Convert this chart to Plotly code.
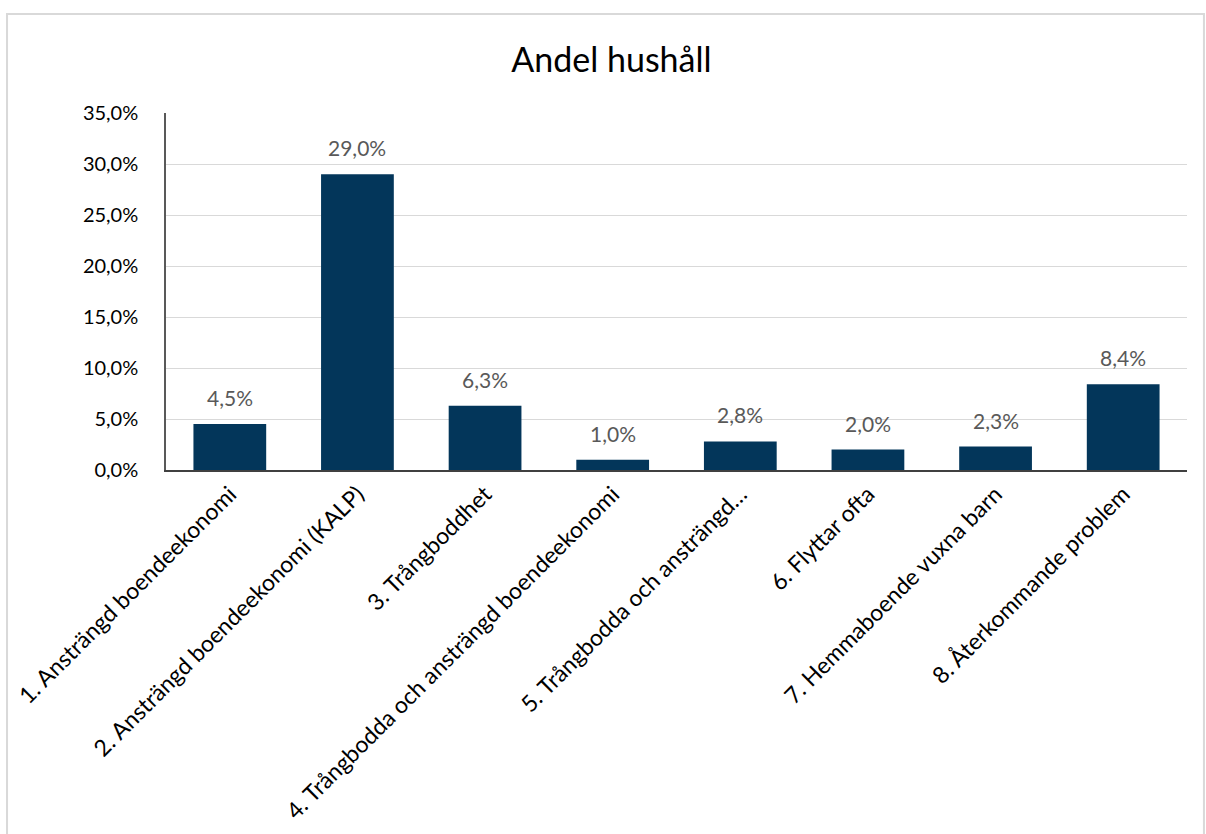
import plotly.graph_objects as go

# Andel hushåll per problemkategori
categories = [
    "1. Ansträngd boendeekonomi",
    "2. Ansträngd boendeekonomi (KALP)",
    "3. Trångboddhet",
    "4. Trångbodda och ansträngd boendeekonomi",
    "5. Trångbodda och ansträngd…",
    "6. Flyttar ofta",
    "7. Hemmaboende vuxna barn",
    "8. Återkommande problem",
]
shares = [0.045, 0.290, 0.063, 0.010, 0.028, 0.020, 0.023, 0.084]
y_ticks = [0.0, 0.05, 0.10, 0.15, 0.20, 0.25, 0.30, 0.35]

BAR_COLOR = "#03365A"
FONT = "Lato, Calibri, Carlito, sans-serif"


def pct_label(v):
    return f"{v * 100:.1f}".replace(".", ",") + "%"


fig = go.Figure()
fig.add_trace(go.Bar(
    x=categories,
    y=shares,
    marker=dict(color=BAR_COLOR, line=dict(width=0)),
    width=0.57,
    hoverinfo="skip",
))

# value labels above each bar
for c, v in zip(categories, shares):
    fig.add_annotation(
        x=c, y=v, text=pct_label(v), showarrow=False,
        yanchor="bottom", yshift=12,
        font=dict(family=FONT, size=21, color="#595959"),
    )

# outer chart frame
fig.add_shape(
    type="rect", xref="paper", yref="paper",
    x0=-0.1557, x1=1.0166, y0=-1.05, y1=1.277,
    line=dict(color="#D9D9D9", width=2), fillcolor="rgba(0,0,0,0)",
    layer="below",
)

fig.update_layout(
    width=1206, height=834,
    margin=dict(l=166, r=19, t=113, b=364),
    paper_bgcolor="white", plot_bgcolor="white",
    separators=", ",
    showlegend=False,
    title=dict(
        text="Andel hushåll", x=0.507, xanchor="center",
        y=1 - 60 / 834, yanchor="middle", yref="container",
        font=dict(family=FONT, size=34, color="#000000"),
    ),
    font=dict(family=FONT, size=20, color="#000000"),
)
fig.update_yaxes(
    range=[0, 0.35], tickvals=y_ticks,
    ticktext=[pct_label(t) for t in y_ticks],
    showgrid=True, gridcolor="#D9D9D9", gridwidth=1,
    showline=True, linecolor="#595959", linewidth=1.5,
    zeroline=False, ticks="", ticklabelstandoff=22, automargin=False,
    tickfont=dict(family=FONT, size=20, color="#000000"),
)
fig.update_xaxes(
    tickangle=-45, showline=True, linecolor="#404040", linewidth=1.5,
    ticks="", showgrid=False, automargin=False,
    tickfont=dict(family=FONT, size=23, color="#000000"),
)

fig.write_html("out.html")
